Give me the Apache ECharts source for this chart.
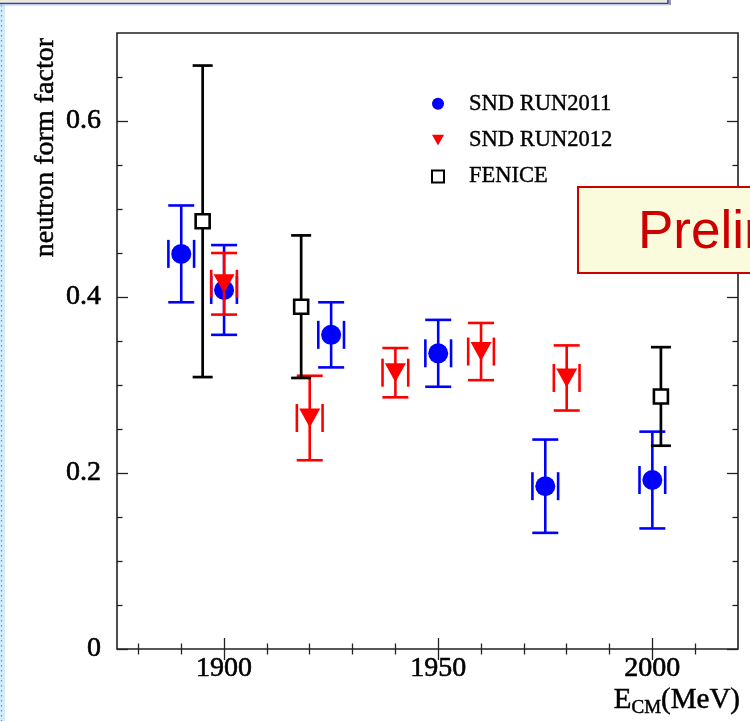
<!DOCTYPE html>
<html><head><meta charset="utf-8">
<script src="https://cdn.jsdelivr.net/npm/echarts@6/dist/echarts.min.js"></script>
<style>html,body{margin:0;padding:0;background:#fff}#c{width:750px;height:721px}</style>
</head><body><div id="c"></div>
<script>
// ---- data ----
const snd2011E = [1890, 1900, 1925, 1950, 1975, 2000];
const snd2011F = [0.449, 0.408, 0.357, 0.336, 0.185, 0.192];
const snd2011Err = [0.055, 0.051, 0.037, 0.038, 0.053, 0.055];
const snd2011EErr = [3, 3, 3, 3, 3, 3];

const snd2012E = [1900, 1920, 1940, 1960, 1980];
const snd2012F = [0.415, 0.2625, 0.314, 0.338, 0.308];
const snd2012Err = [0.035, 0.048, 0.028, 0.0325, 0.037];
const snd2012EErr = [3, 3, 3, 3, 3];

const feniceE = [1895, 1918, 2002];
const feniceF = [0.486, 0.389, 0.287];
const feniceErr = [0.177, 0.081, 0.056];
const feniceEErr = [0, 0, 0];

const seriesNames = ['SND RUN2011', 'SND RUN2012', 'FENICE'];
const xMajor = [1900, 1950, 2000];
const xMinor = [1880, 1890, 1910, 1920, 1930, 1940, 1960, 1970, 1980, 1990, 2010];
const yMajor = [0, 0.2, 0.4, 0.6];
const yMinor = [0.05, 0.1, 0.15, 0.25, 0.3, 0.35, 0.45, 0.5, 0.55, 0.65];
const xRange = [1875, 2020];
const yRange = [0, 0.7];

// ---- build ----
const SERIF = 'Liberation Serif, Times New Roman, serif';
const pts = (E, F) => E.map((e, i) => [e, F[i]]);
const errPts = (E, F, Er, EEr) => E.map((e, i) => [e, F[i], Er[i], EEr[i]]);
const TRI_DOWN = 'path://M0,0L10,0L5,9Z';

function makeErr(color, lw, capHalf, sideHalf) {
  return function (params, api) {
    const x = api.value(0), y = api.value(1), e = api.value(2), ex = api.value(3);
    const p = api.coord([x, y]);
    const pt = api.coord([x, y + e]);
    const pb = api.coord([x, y - e]);
    const st = { stroke: color, lineWidth: lw, fill: null };
    const ch = [
      { type: 'line', shape: { x1: p[0], y1: pt[1], x2: p[0], y2: pb[1] }, style: st },
      { type: 'line', shape: { x1: p[0] - capHalf, y1: pt[1], x2: p[0] + capHalf, y2: pt[1] }, style: st },
      { type: 'line', shape: { x1: p[0] - capHalf, y1: pb[1], x2: p[0] + capHalf, y2: pb[1] }, style: st }
    ];
    if (ex > 0) {
      const xl = api.coord([x - ex, y])[0], xr = api.coord([x + ex, y])[0];
      ch.push({ type: 'line', shape: { x1: xl, y1: p[1] - sideHalf, x2: xl, y2: p[1] + sideHalf }, style: st });
      ch.push({ type: 'line', shape: { x1: xr, y1: p[1] - sideHalf, x2: xr, y2: p[1] + sideHalf }, style: st });
    }
    return { type: 'group', children: ch };
  };
}

const labelStyle = { color: '#000', fontFamily: SERIF, fontSize: 28, textBorderColor: '#000', textBorderWidth: 0.6 };
function axisX(pos, vals, len, labels) {
  return {
    type: 'value', min: xRange[0], max: xRange[1], position: pos,
    axisLine: { show: false }, splitLine: { show: false },
    axisTick: { show: true, inside: true, length: len, customValues: vals, lineStyle: { color: '#222', width: 1.3 } },
    axisLabel: labels ? Object.assign({ show: true, customValues: vals, margin: 6, formatter: v => String(v) }, labelStyle) : { show: false }
  };
}
function axisY(pos, vals, len, labels) {
  return {
    type: 'value', min: yRange[0], max: yRange[1], position: pos,
    axisLine: { show: false }, splitLine: { show: false },
    axisTick: { show: true, inside: true, length: len, customValues: vals, lineStyle: { color: '#222', width: 1.3 } },
    axisLabel: labels ? Object.assign({ show: true, customValues: vals, margin: 16,
      formatter: v => String(Math.round(v * 10) / 10) }, labelStyle) : { show: false }
  };
}

const chart = echarts.init(document.getElementById('c'), null, { renderer: 'canvas' });
chart.setOption({
  animation: false,
  backgroundColor: '#fff',
  grid: { left: 117, right: 12, top: 33, bottom: 72, show: true, borderColor: '#222', borderWidth: 1.6, backgroundColor: 'transparent' },
  xAxis: [axisX('bottom', xMajor, 11, true), axisX('bottom', xMinor, 5.5, false), axisX('top', xMajor, 11, false), axisX('top', xMinor, 5.5, false)],
  yAxis: [axisY('left', yMajor, 11, true), axisY('left', yMinor, 5.5, false), axisY('right', yMajor, 11, false), axisY('right', yMinor, 5.5, false)],
  legend: {
    data: [{ name: seriesNames[0], icon: 'circle' }, { name: seriesNames[1], icon: TRI_DOWN }, { name: seriesNames[2], icon: 'rect' }],
    orient: 'vertical', left: 431, top: 92, padding: 0, itemWidth: 12, itemHeight: 12, itemGap: 13,
    textStyle: { fontFamily: SERIF, fontSize: 22.5, color: '#000', padding: [0, 0, 0, 20], textBorderColor: '#000', textBorderWidth: 0.4 },
    selectedMode: false
  },
  series: [
    { type: 'custom', name: 'e1', renderItem: makeErr('#0000ff', 2.6, 13, 14), data: errPts(snd2011E, snd2011F, snd2011Err, snd2011EErr), encode: { x: 0, y: 1 }, silent: true, z: 2 },
    { type: 'scatter', name: seriesNames[0], symbol: 'circle', symbolSize: 20, itemStyle: { color: '#0000ff', opacity: 1 }, data: pts(snd2011E, snd2011F), z: 3 },
    { type: 'custom', name: 'e2', renderItem: makeErr('#ff0000', 2.6, 13, 14), data: errPts(snd2012E, snd2012F, snd2012Err, snd2012EErr), encode: { x: 0, y: 1 }, silent: true, z: 4 },
    { type: 'scatter', name: seriesNames[1], symbol: TRI_DOWN, symbolSize: [21, 19], itemStyle: { color: '#ff0000', opacity: 1 }, data: pts(snd2012E, snd2012F), z: 5 },
    { type: 'custom', name: 'e3', renderItem: makeErr('#000000', 2.7, 10, 0), data: errPts(feniceE, feniceF, feniceErr, feniceEErr), encode: { x: 0, y: 1 }, silent: true, z: 6 },
    { type: 'scatter', name: seriesNames[2], symbol: 'rect', symbolSize: 14, itemStyle: { color: '#ffffff', borderColor: '#000000', borderWidth: 2.6, opacity: 1 }, data: pts(feniceE, feniceF), z: 7 }
  ],
  graphic: [
    { type: 'rect', shape: { x: 0, y: 0, width: 5, height: 721 }, style: { fill: '#d3ebfb' }, z: 1 },
    { type: 'line', shape: { x1: 1.5, y1: 0, x2: 1.5, y2: 721 }, style: { stroke: '#5d8fc0', lineWidth: 1.2, lineDash: [1.5, 3.5] }, z: 2 },
    { type: 'rect', shape: { x: -5, y: -10, width: 673, height: 13.5 }, style: { fill: '#ecebd8', stroke: '#3a3ab8', lineWidth: 1.6 }, z: 3 },
    { type: 'line', shape: { x1: 0, y1: 5, x2: 669, y2: 5 }, style: { stroke: '#b9c6f0', lineWidth: 1 }, z: 3 },
    { type: 'line', shape: { x1: 670, y1: 0, x2: 670, y2: 5 }, style: { stroke: '#9a9a9a', lineWidth: 2 }, z: 3 },
    { type: 'text', x: 46, y: 38, rotation: Math.PI / 2,
      style: { text: 'neutron form factor', font: '28px ' + SERIF, fill: '#000', align: 'right', verticalAlign: 'middle', stroke: '#000', lineWidth: 0.5 }, z: 10 },
    { type: 'text', x: 740, y: 700,
      style: { text: '{m|E}{s|CM}{m|(MeV)}', align: 'right', verticalAlign: 'middle', fill: '#000', stroke: '#000', lineWidth: 0.5,
        rich: { m: { fontFamily: SERIF, fontSize: 29 },
                s: { fontFamily: SERIF, fontSize: 19, padding: [16, 0, 0, 0] } } }, z: 10 },
    { type: 'rect', shape: { x: 578, y: 187, width: 200, height: 86 }, style: { fill: '#fafadd', stroke: '#cc0000', lineWidth: 2 }, z: 20 },
    { type: 'text', x: 638, y: 233, style: { text: 'Preliminary', font: '53px Liberation Sans, Arial, sans-serif', fill: '#cc0000', align: 'left', verticalAlign: 'middle' }, z: 21 }
  ]
});
</script>
</body></html>
